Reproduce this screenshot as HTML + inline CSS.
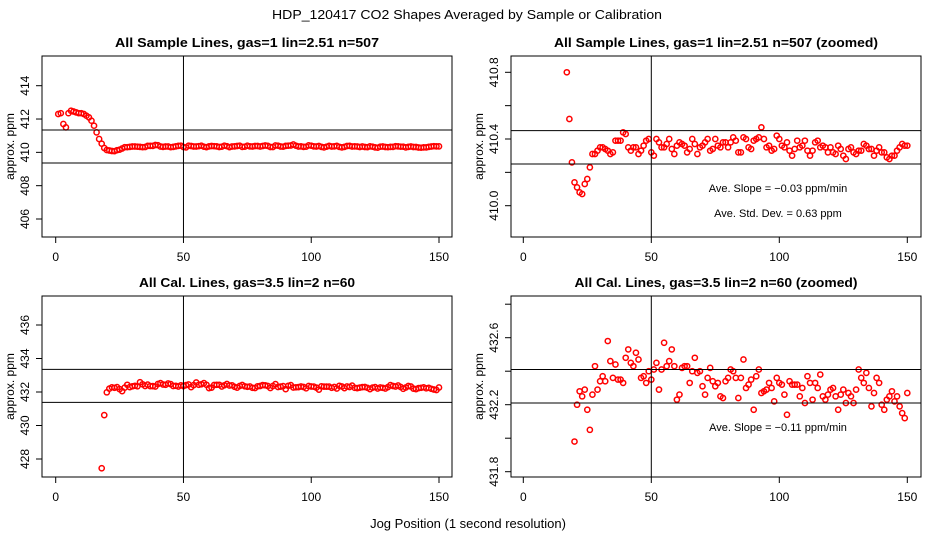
<!DOCTYPE html>
<html><head><meta charset="utf-8">
<style>
html,body{margin:0;padding:0;background:#fff;width:936px;height:540px;overflow:hidden;position:relative;}
svg{display:block;position:absolute;left:0;top:0;font-family:"Liberation Sans",Arial,sans-serif;}
</style></head>
<body>
<svg id="chart" width="936" height="540" viewBox="0 0 936 540" xmlns="http://www.w3.org/2000/svg">
<text x="467" y="19" font-size="13" text-anchor="middle" textLength="390" lengthAdjust="spacingAndGlyphs">HDP_120417  CO2 Shapes Averaged by Sample or Calibration</text>
<text x="468" y="528" font-size="13" text-anchor="middle">Jog Position (1 second resolution)</text>
</svg>
<script>
// Sample series (jog position -> ppm)
const sampleX = [1,2,3,4,5,6,7,8,9,10,11,12,13,14,15,16,17,18,19,20,21,22,23,24,25,26,27,28,29,30,31,32,33,34,35,36,37,38,39,40,41,42,43,44,45,46,47,48,49,50,51,52,53,54,55,56,57,58,59,60,61,62,63,64,65,66,67,68,69,70,71,72,73,74,75,76,77,78,79,80,81,82,83,84,85,86,87,88,89,90,91,92,93,94,95,96,97,98,99,100,101,102,103,104,105,106,107,108,109,110,111,112,113,114,115,116,117,118,119,120,121,122,123,124,125,126,127,128,129,130,131,132,133,134,135,136,137,138,139,140,141,142,143,144,145,146,147,148,149,150];
const sampleY = [412.3,412.35,411.7,411.5,412.35,412.5,412.45,412.4,412.35,412.35,412.3,412.2,412.1,411.9,411.6,411.2,410.8,410.52,410.26,410.14,410.11,410.08,410.07,410.13,410.16,410.23,410.31,410.31,410.33,410.35,410.35,410.34,410.33,410.31,410.32,410.39,410.39,410.39,410.44,410.43,410.35,410.33,410.35,410.35,410.31,410.33,410.36,410.39,410.40,410.32,410.30,410.40,410.38,410.35,410.35,410.37,410.40,410.34,410.31,410.36,410.38,410.37,410.36,410.32,410.34,410.40,410.37,410.31,410.35,410.36,410.38,410.40,410.33,410.34,410.40,410.36,410.35,410.38,410.38,410.35,410.38,410.41,410.39,410.32,410.32,410.41,410.40,410.35,410.34,410.39,410.40,410.41,410.47,410.40,410.35,410.36,410.33,410.34,410.42,410.40,410.36,410.35,410.38,410.33,410.30,410.34,410.39,410.35,410.36,410.39,410.33,410.30,410.33,410.38,410.39,410.35,410.36,410.35,410.32,410.35,410.32,410.31,410.36,410.34,410.30,410.28,410.34,410.35,410.32,410.31,410.33,410.33,410.37,410.36,410.34,410.34,410.30,410.33,410.35,410.32,410.32,410.29,410.28,410.30,410.30,410.33,410.35,410.37,410.36,410.36];
// Calibration series
const calX = [18,19,20,21,22,23,24,25,26,27,28,29,30,31,32,33,34,35,36,37,38,39,40,41,42,43,44,45,46,47,48,49,50,51,52,53,54,55,56,57,58,59,60,61,62,63,64,65,66,67,68,69,70,71,72,73,74,75,76,77,78,79,80,81,82,83,84,85,86,87,88,89,90,91,92,93,94,95,96,97,98,99,100,101,102,103,104,105,106,107,108,109,110,111,112,113,114,115,116,117,118,119,120,121,122,123,124,125,126,127,128,129,130,131,132,133,134,135,136,137,138,139,140,141,142,143,144,145,146,147,148,149,150];
const calY = [427.45,430.62,431.98,432.20,432.28,432.25,432.29,432.17,432.05,432.26,432.43,432.29,432.34,432.37,432.34,432.58,432.46,432.36,432.44,432.35,432.35,432.33,432.48,432.53,432.45,432.43,432.51,432.47,432.36,432.37,432.33,432.40,432.35,432.41,432.45,432.29,432.41,432.57,432.43,432.46,432.53,432.43,432.23,432.26,432.42,432.43,432.43,432.33,432.40,432.48,432.39,432.40,432.31,432.26,432.36,432.42,432.34,432.31,432.33,432.25,432.24,432.34,432.36,432.41,432.40,432.36,432.24,432.36,432.47,432.30,432.32,432.35,432.17,432.37,432.41,432.27,432.28,432.29,432.33,432.30,432.22,432.36,432.33,432.32,432.26,432.14,432.34,432.32,432.32,432.32,432.25,432.30,432.21,432.37,432.33,432.23,432.33,432.30,432.38,432.25,432.23,432.26,432.29,432.30,432.25,432.17,432.26,432.29,432.21,432.27,432.25,432.21,432.29,432.41,432.36,432.33,432.39,432.30,432.19,432.27,432.36,432.33,432.20,432.17,432.23,432.25,432.28,432.22,432.25,432.19,432.15,432.12,432.27];
const xTicks = [0,50,100,150];
const p1Ticks = [406,408,410,412,414];
const p2Ticks = [410.0,410.2,410.4,410.6,410.8];
const p2Labels = ["410.0","","410.4","","410.8"];
const p3Ticks = [428,430,432,434,436];
const p4Ticks = [431.8,432.0,432.2,432.4,432.6,432.8];
const p4Labels = ["431.8","","432.2","","432.6",""];
const p1Lines = [411.34,409.36];
const p2Lines = [410.45,410.25];
const p3Lines = [433.35,431.38];
const p4Lines = [432.41,432.21];

const NS="http://www.w3.org/2000/svg";
const svg=document.getElementById('chart');
function mk(tag,attrs,parent){const e=document.createElementNS(NS,tag);for(const k in attrs)e.setAttribute(k,attrs[k]);(parent||svg).appendChild(e);return e;}

function panel(cfg){
  const g=mk('g',{});
  
  
  const {bx0,bx1,by0,by1,x0px,x150px,vA,pA,vB,pB}=cfg;
  const xs=v=>x0px+(x150px-x0px)*v/150;
  const ys=v=>pA+(v-vA)*(pB-pA)/(vB-vA);
  const t=mk('text',{x:(bx0+bx1)/2,y:by0-9,'font-size':13,'font-weight':'bold','text-anchor':'middle',textLength:cfg.titleLen,lengthAdjust:'spacingAndGlyphs'},g);
  t.textContent=cfg.title;
  
  
  const pts=mk('g',{},g);
  
  
  for(let i=0;i<cfg.xs.length;i++){
    const cx=xs(cfg.xs[i]), cy=ys(cfg.ys[i]);
    if(cy<by0-1||cy>by1+1||cx<bx0||cx>bx1) continue;
    const c=mk('circle',{cx:cx,cy:cy,r:2.6,fill:'none',stroke:'#ff0000','stroke-width':1.5},pts);
    
    
  }
  const lg=mk('g',{stroke:'#000','stroke-width':1},g);
  cfg.hlines.forEach(v=>{
    const l=mk('line',{x1:bx0,x2:bx1,y1:ys(v),y2:ys(v)},lg);
    
    
  });
  const vl=mk('line',{x1:xs(50),x2:xs(50),y1:by0,y2:by1},lg);
  
  
  const box=mk('rect',{x:bx0,y:by0,width:bx1-bx0,height:by1-by0,fill:'none',stroke:'#000','stroke-width':1},g);
  
  
  xTicks.forEach(v=>{
    mk('line',{x1:xs(v),x2:xs(v),y1:by1,y2:by1+6,stroke:'#000'},g);
    const tx=mk('text',{x:xs(v),y:by1+24,'font-size':12,'text-anchor':'middle'},g);
    tx.textContent=v;
    
    
  });
  cfg.yt.forEach((v,i)=>{
    const y=ys(v);
    mk('line',{x1:bx0-6,x2:bx0,y1:y,y2:y,stroke:'#000'},g);
    const lab=cfg.yl[i];
    if(lab){
      const tx=mk('text',{x:bx0-13,y:y,'font-size':12,'text-anchor':'middle',transform:'rotate(-90 '+(bx0-13)+' '+y+')'},g);
      tx.textContent=lab;
      
      
    }
  });
  const yc=(by0+by1)/2, xl=bx0-28;
  const yt=mk('text',{x:xl,y:yc,'font-size':12,'text-anchor':'middle',transform:'rotate(-90 '+xl+' '+yc+')'},g);
  yt.textContent='approx. ppm';
  
  
  (cfg.notes||[]).forEach(n=>{
    const tx=mk('text',{x:n[0],y:n[1],'font-size':11,'text-anchor':'middle'},g);
    tx.textContent=n[2];
    
    
  });
}

panel({name:'panel-sample',title:'All Sample Lines, gas=1 lin=2.51 n=507',titleLen:264,bx0:42,bx1:452,by0:56,by1:237,x0px:55.7,x150px:439,vA:414,pA:85.7,vB:406,pB:219,xs:sampleX,ys:sampleY,yt:p1Ticks,yl:p1Ticks.map(String),hlines:p1Lines});
panel({name:'panel-sample-zoomed',title:'All Sample Lines, gas=1 lin=2.51 n=507 (zoomed)',titleLen:324,bx0:511,bx1:921,by0:56,by1:237,x0px:523.3,x150px:907.3,vA:410.8,pA:72.3,vB:410.0,pB:205.7,xs:sampleX,ys:sampleY,yt:p2Ticks,yl:p2Labels,hlines:p2Lines,notes:[[778,192,'Ave. Slope =  \u22120.03  ppm/min'],[778,217,'Ave. Std. Dev. =  0.63  ppm']]});
panel({name:'panel-cal',title:'All Cal. Lines, gas=3.5 lin=2 n=60',titleLen:216,bx0:42,bx1:452,by0:296,by1:477,x0px:55.7,x150px:439,vA:436,pA:325,vB:428,pB:459,xs:calX,ys:calY,yt:p3Ticks,yl:p3Ticks.map(String),hlines:p3Lines});
panel({name:'panel-cal-zoomed',title:'All Cal. Lines, gas=3.5 lin=2 n=60 (zoomed)',titleLen:283,bx0:511,bx1:921,by0:296,by1:477,x0px:523.3,x150px:907.3,vA:432.6,pA:337.7,vB:431.8,pB:471.7,xs:calX,ys:calY,yt:p4Ticks,yl:p4Labels,hlines:p4Lines,notes:[[778,431,'Ave. Slope =  \u22120.11  ppm/min']]});
</script>
</body></html>
